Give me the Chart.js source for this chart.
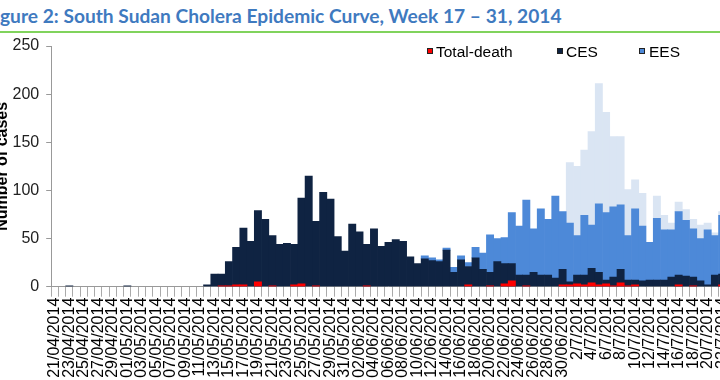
<!DOCTYPE html>
<html><head><meta charset="utf-8">
<script src="https://cdn.jsdelivr.net/npm/chart.js@4.4.1/dist/chart.umd.min.js"></script>
<style>
html,body{margin:0;padding:0;width:720px;height:380px;overflow:hidden;background:#fff;}
body{position:relative;font-family:"Liberation Sans",Arial,sans-serif;}
#title{position:absolute;top:4px;left:0;white-space:nowrap;font-family:Lato,"Open Sans",sans-serif;font-weight:bold;color:#3f7abf;font-size:19px;line-height:24px;}
#rule{position:absolute;left:0;top:31px;width:720px;height:2px;background:#80d35c;}
#wrap{position:absolute;left:-7px;top:0;width:750px;height:380px;}
.lt{position:absolute;top:44px;font-size:15.5px;line-height:16px;color:#000;white-space:nowrap;}
.bx{position:absolute;top:48px;width:6px;height:6px;box-sizing:border-box;border:1px solid #222;}
</style></head>
<body>
<div id="title"><span id="cut">Fi</span><span id="rest">gure 2: South Sudan Cholera Epidemic Curve, Week 17 – 31, 2014</span></div>
<div id="rule"></div>
<div id="wrap"><canvas id="c" width="750" height="380"></canvas></div>
<div class="bx" style="left:427px;background:#ff0000"></div><div class="lt" style="left:436px">Total-death</div>
<div class="bx" style="left:557px;background:#0f2342"></div><div class="lt" style="left:566px">CES</div>
<div class="bx" style="left:639px;background:#4d89d8"></div><div class="lt" style="left:649px">EES</div>
<script>
const dates = [
 '21/04/2014','22/04/2014','23/04/2014','24/04/2014','25/04/2014','26/04/2014','27/04/2014','28/04/2014','29/04/2014','30/04/2014',
 '01/05/2014','02/05/2014','03/05/2014','04/05/2014','05/05/2014','06/05/2014','07/05/2014','08/05/2014','09/05/2014','10/05/2014',
 '11/05/2014','12/05/2014','13/05/2014','14/05/2014','15/05/2014','16/05/2014','17/05/2014','18/05/2014','19/05/2014','20/05/2014',
 '21/05/2014','22/05/2014','23/05/2014','24/05/2014','25/05/2014','26/05/2014','27/05/2014','28/05/2014','29/05/2014','30/05/2014',
 '31/05/2014','01/06/2014','02/06/2014','03/06/2014','04/06/2014','05/06/2014','06/06/2014','07/06/2014','08/06/2014','09/06/2014',
 '10/06/2014','11/06/2014','12/06/2014','13/06/2014','14/06/2014','15/06/2014','16/06/2014','17/06/2014','18/06/2014','19/06/2014',
 '20/06/2014','21/06/2014','22/06/2014','23/06/2014','24/06/2014','25/06/2014','26/06/2014','27/06/2014','28/06/2014','29/06/2014',
 '30/06/2014','1/7/2014','2/7/2014','3/7/2014','4/7/2014','5/7/2014','6/7/2014','7/7/2014','8/7/2014','9/7/2014',
 '10/7/2014','11/7/2014','12/7/2014','13/7/2014','14/7/2014','15/7/2014','16/7/2014','17/7/2014','18/7/2014','19/7/2014',
 '20/7/2014','21/7/2014','22/7/2014'
];
const totalDeath = [
 0,0,0,0,0,0,0,0,0,0,
 0,0,0,0,0,0,0,0,0,0,
 0,0,0,1,1,2,2,0,5,0,
 1,0,0,2,3,0,1,0,0,0,
 0,0,0,1,0,0,0,0,0,0,
 0,0,0,0,0,0,0,2,0,0,
 1,0,3,6,0,1,0,0,0,0,
 2,2,3,2,4,2,3,1,4,1,
 2,0,0,0,0,0,2,0,1,0,
 0,0,2
];
const ces = [
 0,0,1,0,0,0,0,0,0,0,
 1,0,0,0,0,0,0,0,0,0,
 0,2,13,13,26,41,61,47,79,70,
 53,44,45,44,92,115,68,98,91,52,
 37,65,57,44,60,42,46,49,47,31,
 24,29,27,26,38,15,28,21,30,18,
 15,26,24,24,12,12,15,12,12,9,
 18,5,12,12,19,15,7,10,18,7,
 7,6,7,7,7,10,12,11,10,6,
 2,12,13
];
const ees = [
 0,0,0,0,0,0,0,0,0,0,
 0,0,0,0,0,0,0,0,0,0,
 0,0,0,0,0,0,0,0,0,0,
 0,0,0,0,0,0,0,0,0,0,
 0,0,0,0,0,0,0,0,0,0,
 0,3,3,2,2,5,4,4,11,17,
 39,24,27,53,51,78,45,69,58,85,
 60,61,41,62,45,71,70,73,67,46,
 74,57,39,64,52,49,66,58,50,44,
 57,41,61
];
const otherStates = [
 0,0,0,0,0,0,0,0,0,0,
 0,0,0,0,0,0,0,0,0,0,
 0,0,0,0,0,0,0,0,0,0,
 0,0,0,0,0,0,0,0,0,0,
 0,0,0,0,0,0,0,0,0,0,
 0,0,0,0,0,0,0,0,0,0,
 0,0,0,0,0,0,0,0,0,0,
 0,63,72,68,97,125,104,73,71,48,
 30,34,0,23,15,7,10,11,10,14,
 7,3,4
];
const yTicks = [0,50,100,150,200,250];

(function(){
  const t=document.getElementById('title'),cut=document.getElementById('cut'),rest=document.getElementById('rest');
  let fs=19; t.style.fontSize=fs+'px';
  const w=rest.getBoundingClientRect().width;
  fs=fs*562/w; t.style.fontSize=fs+'px';
  t.style.left=(-cut.getBoundingClientRect().width)+'px';
})();

const nz = arr => arr.map(v => v === 0 ? null : v);
const common={barPercentage:1,categoryPercentage:1,borderWidth:0,grouped:false};
new Chart(document.getElementById('c'),{
  type:'bar',
  data:{labels:dates,datasets:[
    Object.assign({label:'Total-death',data:nz(totalDeath),backgroundColor:'#ff0000',stack:'deaths'},common),
    Object.assign({label:'CES',data:nz(ces),backgroundColor:'#0f2342',stack:'cases'},common),
    Object.assign({label:'EES',data:nz(ees),backgroundColor:'#4d89d8',stack:'cases'},common),
    Object.assign({label:'Other',data:nz(otherStates),backgroundColor:'#dae5f3',stack:'cases'},common)
  ]},
  options:{
    animation:false,responsive:false,
    layout:{padding:{top:46,right:17.2,left:0,bottom:0}},
    plugins:{legend:{display:false},tooltip:{enabled:false}},
    scales:{
      x:{stacked:true,offset:true,
        grid:{display:true,drawOnChartArea:false,offset:true,tickLength:10,color:'#aaaaaa'},
        border:{color:'#999999'},
        ticks:{autoSkip:false,minRotation:90,maxRotation:90,padding:1,font:{size:16,family:'"Liberation Sans", Arial, sans-serif'},color:'#000',
          callback:(v,i)=> i%2===0 ? dates[i] : ''},
        afterFit:s=>{s.height=93.3;}
      },
      y:{stacked:true,min:0,max:250,
        afterBuildTicks:s=>{s.ticks=yTicks.map(v=>({value:v}));},
        ticks:{padding:7,font:{size:16,family:'"Liberation Sans", Arial, sans-serif'},color:'#222'},
        grid:{drawOnChartArea:false,tickLength:5,color:'#999999'},
        border:{color:'#999999'},
        title:{display:true,text:'Number of cases',font:{size:16,weight:'bold',family:'"Liberation Sans", Arial, sans-serif'},color:'#000',padding:0},
        afterFit:s=>{s.width=58.2;}
      }
    }
  }
});
</script>
</body></html>
